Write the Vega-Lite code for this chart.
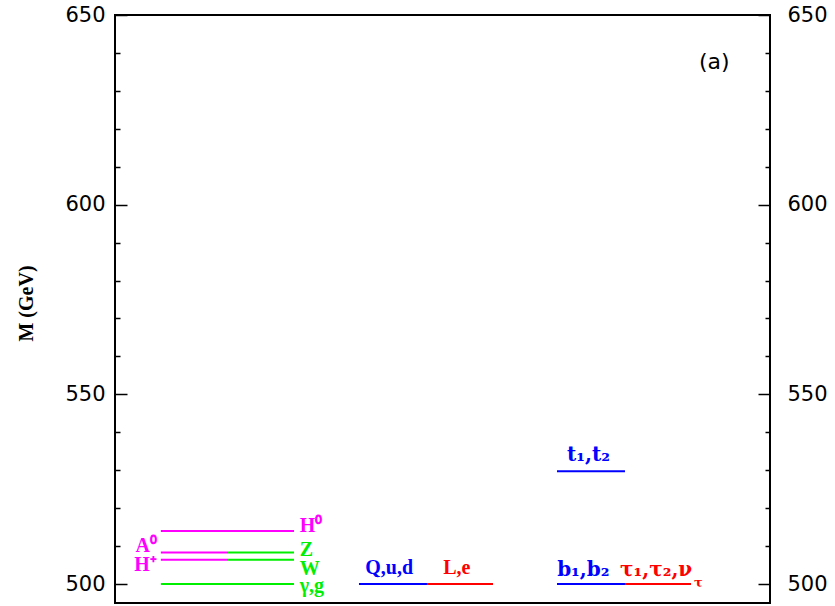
{
  "$schema": "https://vega.github.io/schema/vega-lite/v6.json",
  "width": 655,
  "height": 588,
  "autosize": {"type": "none"},
  "padding": {"left": 115, "top": 15, "right": 65, "bottom": 3},
  "background": "white",
  "config": {"view": {"stroke": "black", "strokeWidth": 2}},
  "datasets": {
    "segments": [
      {"name": "H0", "x1": 0.70, "x2": 2.733, "y": 514.0, "c": "magenta"},
      {"name": "A0", "x1": 0.70, "x2": 1.725, "y": 508.3, "c": "magenta"},
      {"name": "Z", "x1": 1.725, "x2": 2.733, "y": 508.3, "c": "green"},
      {"name": "H+", "x1": 0.70, "x2": 1.725, "y": 506.4, "c": "magenta"},
      {"name": "W", "x1": 1.725, "x2": 2.733, "y": 506.4, "c": "green"},
      {"name": "gamma,g", "x1": 0.70, "x2": 2.733, "y": 500.0, "c": "green"},
      {"name": "Q,u,d", "x1": 3.725, "x2": 4.763, "y": 500.0, "c": "blue"},
      {"name": "L,e", "x1": 4.763, "x2": 5.771, "y": 500.0, "c": "red"},
      {"name": "t1,t2", "x1": 6.748, "x2": 7.786, "y": 529.7, "c": "blue"},
      {"name": "b1,b2", "x1": 6.748, "x2": 7.786, "y": 500.0, "c": "blue"},
      {"name": "tau", "x1": 7.786, "x2": 8.794, "y": 500.0, "c": "red"}
    ],
    "labelsLeft": [
      {"label": "H⁰", "x": 2.82, "y": 513.7, "c": "magenta"},
      {"label": "Z", "x": 2.82, "y": 507.4, "c": "green"},
      {"label": "W", "x": 2.82, "y": 502.4, "c": "green"},
      {"label": "γ,g", "x": 2.82, "y": 497.9, "c": "green"},
      {"label": "Q,u,d", "x": 3.82, "y": 502.6, "c": "blue"},
      {"label": "L,e", "x": 5.01, "y": 502.6, "c": "red"}
    ],
    "labelsSub": [
      {"label": "t₁,t₂", "x": 6.90, "y": 532.4, "c": "blue"},
      {"label": "b₁,b₂", "x": 6.75, "y": 502.1, "c": "blue"},
      {"label": "τ₁,τ₂,ν", "x": 7.71, "y": 502.1, "c": "red"}
    ],
    "labelsRight": [
      {"label": "A⁰", "x": 0.64, "y": 508.4, "c": "magenta"},
      {"label": "H⁺", "x": 0.64, "y": 503.4, "c": "magenta"}
    ],
    "subs": [
      {"label": "τ", "x": 8.84, "y": 499.2, "c": "red"}
    ],
    "panel": [
      {"label": "(a)", "x": 9.15, "y": 637.6}
    ]
  },
  "resolve": {"axis": {"y": "independent"}},
  "layer": [
    {
      "data": {"name": "segments"},
      "mark": {"type": "rule", "strokeWidth": 2},
      "encoding": {
        "x": {"field": "x1", "type": "quantitative", "scale": {"domain": [0, 10], "nice": false, "zero": false}, "axis": null},
        "x2": {"field": "x2"},
        "y": {
          "field": "y", "type": "quantitative",
          "scale": {"domain": [495, 650], "nice": false, "zero": false},
          "axis": {
            "orient": "left",
            "values": [500, 510, 520, 530, 540, 550, 560, 570, 580, 590, 600, 610, 620, 630, 640, 650],
            "labelExpr": "datum.value % 50 === 0 ? datum.label : ''",
            "domain": false,
            "grid": false,
            "ticks": true,
            "tickColor": "black",
            "tickWidth": 1.5,
            "tickSize": {"condition": {"test": "datum.value % 50 === 0", "value": -12}, "value": -5},
            "labelPadding": 22,
            "labelFont": "DejaVu Sans",
            "labelFontSize": 21,
            "labelColor": "black",
            "labelFlush": false,
            "labelOverlap": false,
            "title": "M (GeV)",
            "titleFont": "Liberation Serif",
            "titleFontWeight": "bold",
            "titleFontSize": 20,
            "titleColor": "black",
            "titleX": -89,
            "titleY": 288,
            "titleAngle": -90,
            "titleAlign": "center",
            "titleBaseline": "middle"
          }
        },
        "color": {
          "field": "c", "type": "nominal",
          "scale": {"domain": ["magenta", "green", "blue", "red"], "range": ["#ff00ff", "#00ee00", "#0000ff", "#ff0000"]},
          "legend": null
        }
      }
    },
    {
      "data": {"name": "labelsLeft"},
      "mark": {"type": "text", "align": "left", "baseline": "alphabetic", "font": "Liberation Serif", "fontWeight": "bold", "fontSize": 20},
      "encoding": {
        "x": {"field": "x", "type": "quantitative"},
        "y": {
          "field": "y", "type": "quantitative",
          "axis": {
            "orient": "right",
            "values": [500, 510, 520, 530, 540, 550, 560, 570, 580, 590, 600, 610, 620, 630, 640, 650],
            "labelExpr": "datum.value % 50 === 0 ? datum.label : ''",
            "domain": false,
            "grid": false,
            "ticks": true,
            "tickColor": "black",
            "tickWidth": 1.5,
            "tickSize": {"condition": {"test": "datum.value % 50 === 0", "value": -12}, "value": -5},
            "labelPadding": 29,
            "labelFont": "DejaVu Sans",
            "labelFontSize": 21,
            "labelColor": "black",
            "labelFlush": false,
            "labelOverlap": false,
            "title": null
          }
        },
        "text": {"field": "label"},
        "color": {"field": "c", "type": "nominal", "legend": null}
      }
    },
    {
      "data": {"name": "labelsSub"},
      "mark": {"type": "text", "align": "left", "baseline": "alphabetic", "font": "DejaVu Serif", "fontWeight": "bold", "fontSize": 20},
      "encoding": {
        "x": {"field": "x", "type": "quantitative"},
        "y": {"field": "y", "type": "quantitative", "axis": null},
        "text": {"field": "label"},
        "color": {"field": "c", "type": "nominal", "legend": null}
      }
    },
    {
      "data": {"name": "labelsRight"},
      "mark": {"type": "text", "align": "right", "baseline": "alphabetic", "font": "Liberation Serif", "fontWeight": "bold", "fontSize": 20},
      "encoding": {
        "x": {"field": "x", "type": "quantitative"},
        "y": {"field": "y", "type": "quantitative", "axis": null},
        "text": {"field": "label"},
        "color": {"field": "c", "type": "nominal", "legend": null}
      }
    },
    {
      "data": {"name": "subs"},
      "mark": {"type": "text", "align": "left", "baseline": "alphabetic", "font": "DejaVu Serif", "fontWeight": "bold", "fontSize": 13},
      "encoding": {
        "x": {"field": "x", "type": "quantitative"},
        "y": {"field": "y", "type": "quantitative", "axis": null},
        "text": {"field": "label"},
        "color": {"field": "c", "type": "nominal", "legend": null}
      }
    },
    {
      "data": {"name": "panel"},
      "mark": {"type": "text", "align": "center", "baseline": "middle", "font": "DejaVu Sans", "fontSize": 22, "color": "black"},
      "encoding": {
        "x": {"field": "x", "type": "quantitative"},
        "y": {"field": "y", "type": "quantitative", "axis": null},
        "text": {"field": "label"}
      }
    }
  ]
}
